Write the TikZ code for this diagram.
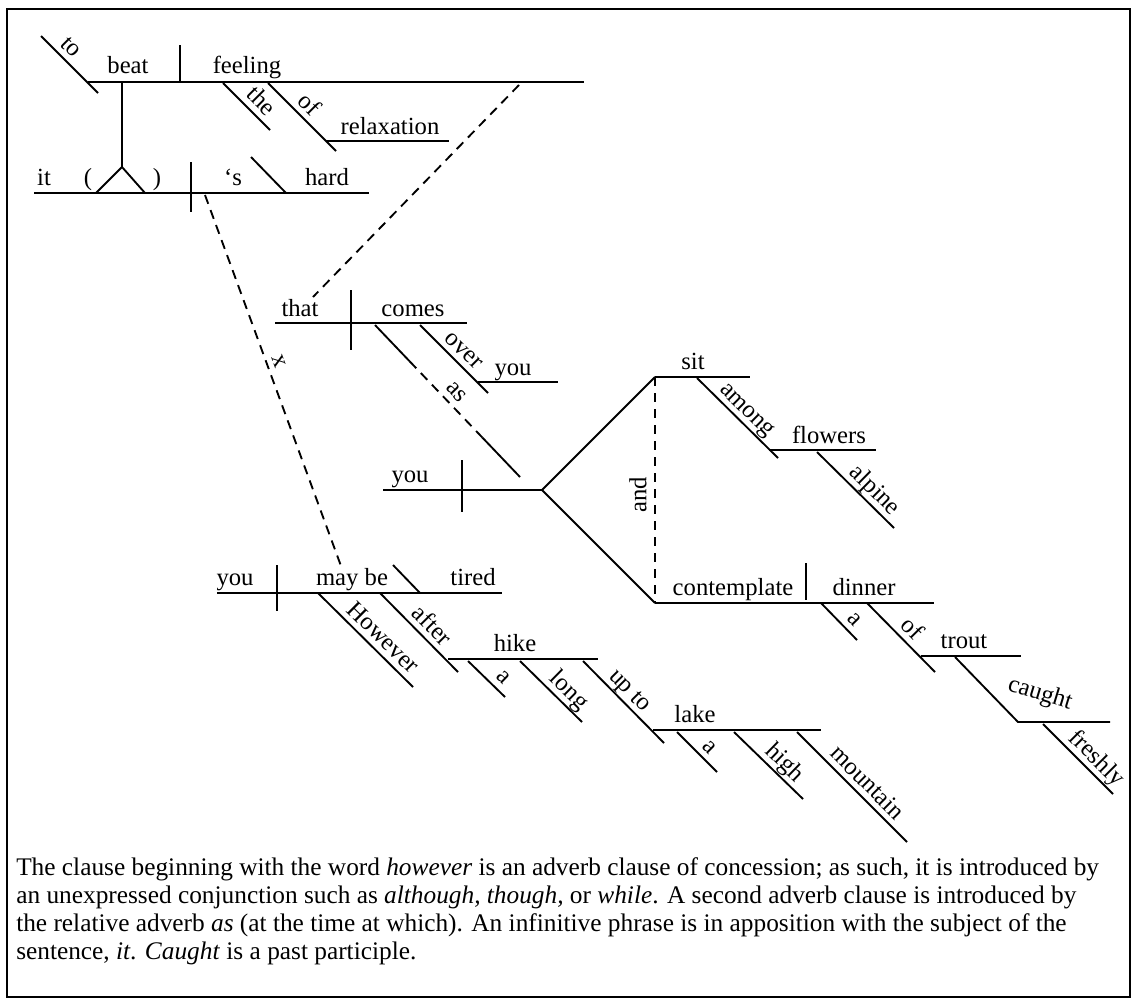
\documentclass[tikz,border=0pt]{standalone}
\usepackage{fontspec}
\setmainfont{Liberation Serif}
\usetikzlibrary{calc}
\newcommand\labfont{\fontsize{18.5}{22}\selectfont}
\newcommand\capfont{\fontsize{19}{21}\selectfont}
\tikzset{
  ln/.style={line width=1.4pt},
  dsh/.style={line width=1.4pt, dash pattern=on 7pt off 5pt},
  wd/.style={font=\labfont, anchor=base, inner sep=0pt},
  sl/.style={font=\labfont, sloped, anchor=base, inner sep=0pt, yshift=5pt},
}
\begin{document}
\begin{tikzpicture}[x=0.75pt,y=-0.75pt]
\useasboundingbox (0,0) rectangle (1138,1007);
\draw[line width=1.7pt] (7,9) rectangle (1130,997);
% ---------- coordinates ----------
\coordinate (to1) at (41,36); \coordinate (to2) at (98,93);
\coordinate (b1) at (88,82); \coordinate (b2) at (584,82);
\coordinate (bd1) at (180,45); \coordinate (bd2) at (180,82);
\coordinate (st1) at (122,82); \coordinate (st2) at (122,167);
\coordinate (pl) at (96,193); \coordinate (pr) at (145,193);
\coordinate (the1) at (223,83); \coordinate (the2) at (270,130);
\coordinate (of1) at (268,83); \coordinate (of2) at (336,151);
\coordinate (rx1) at (326,141); \coordinate (rx2) at (449,141);
\coordinate (m1) at (34,193); \coordinate (m2) at (369,193);
\coordinate (md1) at (191,162); \coordinate (md2) at (191,212);
\coordinate (bs1) at (251,157); \coordinate (bs2) at (286,193);
\coordinate (dA1) at (519,85); \coordinate (dA2) at (313,297);
\coordinate (dX1) at (205,195); \coordinate (dX2) at (341,566);
\coordinate (t1) at (275,323); \coordinate (t2) at (467,323);
\coordinate (td1) at (351,290); \coordinate (td2) at (351,350);
\coordinate (ov1) at (420,325); \coordinate (ov2) at (488,393);
\coordinate (yo1) at (478,382); \coordinate (yo2) at (558,382);
\coordinate (as1) at (375,325); \coordinate (as2) at (520,477);
\coordinate (u1) at (383,490); \coordinate (u2) at (542,490);
\coordinate (ud1) at (462,460); \coordinate (ud2) at (462,512);
\coordinate (s1) at (655,377); \coordinate (s2) at (750,377);
\coordinate (c1) at (655,603); \coordinate (c2) at (934,603);
\coordinate (cd1) at (806,563); \coordinate (cd2) at (806,600);
\coordinate (am1) at (697,378); \coordinate (am2) at (778,458);
\coordinate (fl1) at (769,450); \coordinate (fl2) at (876,450);
\coordinate (al1) at (817,452); \coordinate (al2) at (894,528);
\coordinate (da1) at (821,603); \coordinate (da2) at (857,640);
\coordinate (of3) at (867,603); \coordinate (of4) at (935,672);
\coordinate (tr1) at (921,656); \coordinate (tr2) at (1021,656);
\coordinate (ca1) at (955,657); \coordinate (ca2) at (1018,722); \coordinate (ca3) at (1110,722);
\coordinate (fr1) at (1043,724); \coordinate (fr2) at (1113,794);
\coordinate (v1) at (217,593); \coordinate (v2) at (502,593);
\coordinate (vd1) at (277,565); \coordinate (vd2) at (277,611);
\coordinate (ti1) at (393,565); \coordinate (ti2) at (420,593);
\coordinate (hw1) at (318,593); \coordinate (hw2) at (413,687);
\coordinate (af1) at (380,593); \coordinate (af2) at (458,672);
\coordinate (hk1) at (448,659); \coordinate (hk2) at (598,659);
\coordinate (ha1) at (468,661); \coordinate (ha2) at (505,697);
\coordinate (lo1) at (520,661); \coordinate (lo2) at (582,722);
\coordinate (up1) at (583,661); \coordinate (up2) at (664,743);
\coordinate (lk1) at (653,730); \coordinate (lk2) at (821,730);
\coordinate (la1) at (677,732); \coordinate (la2) at (717,772);
\coordinate (hi1) at (734,732); \coordinate (hi2) at (803,799);
\coordinate (mo1) at (797,732); \coordinate (mo2) at (907,842);
% ---------- infinitive phrase ----------
\draw[ln] (to1) -- (to2) node[sl,pos=0.36] (Lto) {to};
\draw[ln] (b1) -- (b2);
\draw[ln] (bd1) -- (bd2);
\node[wd] (Wbeat) at (128,73) {beat};
\node[wd] (Wfeeling) at (247,73) {feeling};
\draw[ln] (the1) -- (the2) node[sl,pos=0.6] (Lthe) {the};
\draw[ln] (of1) -- (of2) node[sl,pos=0.46] (Lof) {of};
\draw[ln] (rx1) -- (rx2);
\node[wd] (Wrelax) at (390,134) {relaxation};
\draw[ln] (st1) -- (st2);
\draw[ln] (pl) -- (st2) -- (pr);
% ---------- main clause ----------
\draw[ln] (m1) -- (m2);
\draw[ln] (md1) -- (md2);
\draw[ln] (bs1) -- (bs2);
\node[wd] (Wit) at (44,185) {it};
\node[wd] (Wlp) at (88,185) {(};
\node[wd] (Wrp) at (157,185) {)};
\node[wd] (Ws) at (233,185) {‘s};
\node[wd] (Whard) at (327,185) {hard};
% ---------- dashed connectors ----------
\draw[dsh] (dA1) -- (dA2);
\draw[dsh] (dX1) -- (dX2) node[sl,pos=0.46] (Lx) {x};
% ---------- relative clause ----------
\draw[ln] (t1) -- (t2);
\draw[ln] (td1) -- (td2);
\node[wd] (Wthat) at (300,316) {that};
\node[wd] (Wcomes) at (413,316) {comes};
\draw[ln] (ov1) -- (ov2) node[sl,pos=0.51] (Lover) {over};
\draw[ln] (yo1) -- (yo2);
\node[wd] (Wyou1) at (513,375) {you};
\draw[ln] (as1) -- ($(as1)!0.24!(as2)$) coordinate (asA);
\draw[ln] ($(as1)!0.74!(as2)$) coordinate (asB) -- (as2);
\draw[dsh] (asA) -- (asB) node[sl,pos=0.52] (Las) {as};
% ---------- adverb clause (as) ----------
\draw[ln] (u1) -- (u2);
\draw[ln] (ud1) -- (ud2);
\node[wd] (Wyou2) at (410,482) {you};
\draw[ln] (s1) -- (u2) -- (c1);
\draw[ln] (s1) -- (s2);
\node[wd] (Wsit) at (693,369) {sit};
\draw[dsh] (s1) -- (c1);
\node[font=\labfont, rotate=90, inner sep=0pt] (Wand) at (638,495) {and};
\draw[ln] (am1) -- (am2) node[sl,pos=0.51] (Lamong) {among};
\draw[ln] (fl1) -- (fl2);
\node[wd] (Wflowers) at (829,443) {flowers};
\draw[ln] (al1) -- (al2) node[sl,pos=0.63] (Lalpine) {alpine};
\draw[ln] (c1) -- (c2);
\draw[ln] (cd1) -- (cd2);
\node[wd] (Wcont) at (733,595) {contemplate};
\node[wd] (Wdinner) at (864,595) {dinner};
\draw[ln] (da1) -- (da2) node[sl,pos=0.68] (La1) {a};
\draw[ln] (of3) -- (of4) node[sl,pos=0.52] (Lof2) {of};
\draw[ln] (tr1) -- (tr2);
\node[wd] (Wtrout) at (964,648) {trout};
\draw[ln] (ca1) -- (ca2) -- (ca3);
\node[font=\labfont, rotate=-17, inner sep=0pt] (Wcaught) at (1040,694) {caught};
\draw[ln] (fr1) -- (fr2) node[sl,pos=0.63] (Lfreshly) {freshly};
% ---------- concession clause ----------
\draw[ln] (v1) -- (v2);
\draw[ln] (vd1) -- (vd2);
\draw[ln] (ti1) -- (ti2);
\node[wd] (Wyou3) at (235,585) {you};
\node[wd] (Wmaybe) at (352,585) {may be};
\node[wd] (Wtired) at (473,585) {tired};
\draw[ln] (hw1) -- (hw2) node[sl,pos=0.58] (Lhow) {However};
\draw[ln] (af1) -- (af2) node[sl,pos=0.54] (Lafter) {after};
\draw[ln] (hk1) -- (hk2);
\node[wd] (Whike) at (515,651) {hike};
\draw[ln] (ha1) -- (ha2) node[sl,pos=0.71] (La2) {a};
\draw[ln] (lo1) -- (lo2) node[sl,pos=0.64] (Llong) {long};
\draw[ln] (up1) -- (up2) node[sl,pos=0.47] (Lupto) {up to};
\draw[ln] (lk1) -- (lk2);
\node[wd] (Wlake) at (695,722) {lake};
\draw[ln] (la1) -- (la2) node[sl,pos=0.6] (La3) {a};
\draw[ln] (hi1) -- (hi2) node[sl,pos=0.6] (Lhigh) {high};
\draw[ln] (mo1) -- (mo2) node[sl,pos=0.55] (Lmount) {mountain};
% ---------- caption ----------
\node[anchor=base west, align=left, inner sep=0pt, font=\capfont] (cap) at (16,959)
{The clause beginning with the word \textit{however} is an adverb clause of concession; as such, it is introduced by\\
an unexpressed conjunction such as \textit{although, though,} or \textit{while}. A second adverb clause is introduced by\\
the relative adverb \textit{as} (at the time at which). An infinitive phrase is in apposition with the subject of the\\
sentence, \textit{it}. \textit{Caught} is a past participle.};
\end{tikzpicture}
\end{document}
